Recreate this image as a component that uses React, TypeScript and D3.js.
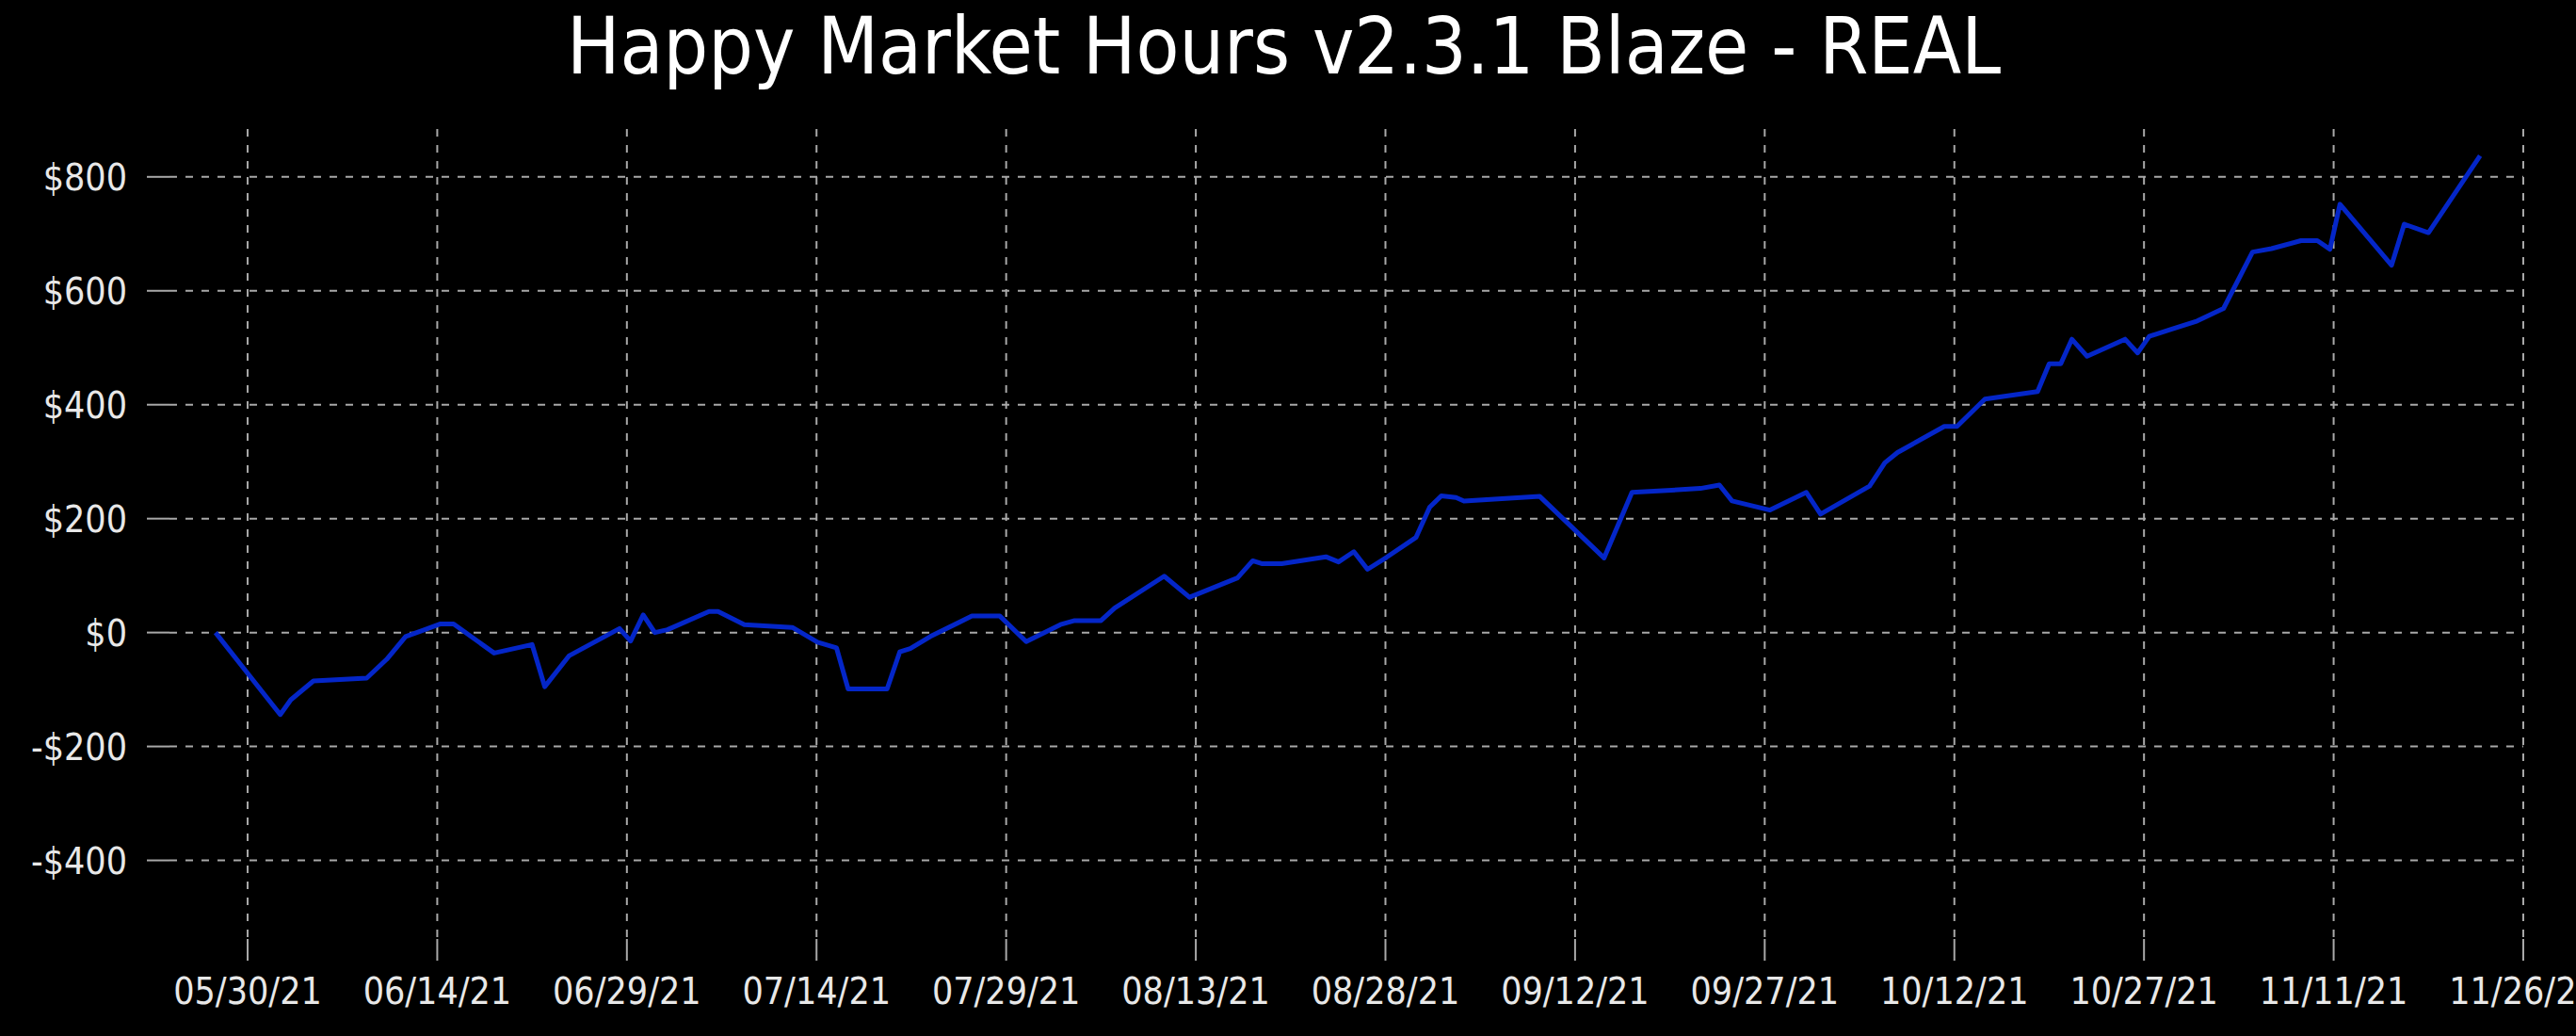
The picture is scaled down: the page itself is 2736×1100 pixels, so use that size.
import React from "react";
import * as d3 from "d3";

const TITLE = "Happy Market Hours v2.3.1 Blaze - REAL";

const dates: string[] = [
  "2021-05-27 11:00", "2021-06-01 14:00", "2021-06-02 10:00", "2021-06-04 05:00", "2021-06-08 10:00",
  "2021-06-10 00:00", "2021-06-11 12:00", "2021-06-13 00:00", "2021-06-14 05:00", "2021-06-15 07:00",
  "2021-06-18 12:00", "2021-06-21 12:00", "2021-06-22 12:00", "2021-06-24 10:00", "2021-06-28 10:00",
  "2021-06-29 07:00", "2021-06-30 07:00", "2021-07-01 05:00", "2021-07-02 05:00", "2021-07-05 12:00",
  "2021-07-06 05:00", "2021-07-08 07:00", "2021-07-12 02:00", "2021-07-14 02:00", "2021-07-15 14:00",
  "2021-07-16 12:00", "2021-07-19 14:00", "2021-07-20 14:00", "2021-07-21 10:00", "2021-07-23 00:00",
  "2021-07-26 07:00", "2021-07-28 12:00", "2021-07-30 14:00", "2021-08-02 07:00", "2021-08-03 10:00",
  "2021-08-05 12:00", "2021-08-06 14:00", "2021-08-10 12:00", "2021-08-12 12:00", "2021-08-16 07:00",
  "2021-08-17 12:00", "2021-08-18 05:00", "2021-08-19 19:00", "2021-08-23 07:00", "2021-08-24 07:00",
  "2021-08-25 12:00", "2021-08-26 14:00", "2021-08-28 02:00", "2021-08-30 10:00", "2021-08-31 12:00",
  "2021-09-01 10:00", "2021-09-02 14:00", "2021-09-03 05:00", "2021-09-09 05:00", "2021-09-14 07:00",
  "2021-09-16 12:00", "2021-09-21 22:00", "2021-09-23 10:00", "2021-09-24 10:00", "2021-09-27 10:00",
  "2021-09-30 07:00", "2021-10-01 10:00", "2021-10-05 07:00", "2021-10-06 12:00", "2021-10-07 12:00",
  "2021-10-11 05:00", "2021-10-12 05:00", "2021-10-14 10:00", "2021-10-15 17:00", "2021-10-18 14:00",
  "2021-10-19 12:00", "2021-10-20 10:00", "2021-10-21 07:00", "2021-10-22 12:00", "2021-10-25 12:00",
  "2021-10-26 12:00", "2021-10-27 10:00", "2021-10-29 05:00", "2021-10-31 05:00", "2021-11-02 07:00",
  "2021-11-04 14:00", "2021-11-06 02:00", "2021-11-08 10:00", "2021-11-09 17:00", "2021-11-10 17:00",
  "2021-11-11 12:00", "2021-11-15 14:00", "2021-11-16 14:00", "2021-11-18 12:00", "2021-11-22 14:00",
];

const profit: number[] = [
  0, -144, -118, -85, -80,
  -47, -7, 5, 15, 15,
  -36, -21, -95, -41, 7,
  -15, 31, 0, 5, 37,
  37, 14, 9, -17, -27,
  -99, -99, -34, -28, -7,
  29, 29, -16, 14, 21,
  21, 43, 99, 62, 96,
  126, 121, 121, 133, 124,
  142, 111, 132, 167, 220,
  240, 237, 231, 239, 131,
  246, 253, 259, 231, 215,
  246, 208, 257, 298, 316,
  362, 362, 410, 414, 423,
  472, 472, 515, 485, 515,
  491, 520, 533, 547, 569,
  668, 674, 688, 688, 673,
  752, 645, 717, 702, 837,
];

const xTickDates: string[] = [
  "2021-05-30 00:00", "2021-06-14 00:00", "2021-06-29 00:00", "2021-07-14 00:00", "2021-07-29 00:00",
  "2021-08-13 00:00", "2021-08-28 00:00", "2021-09-12 00:00", "2021-09-27 00:00", "2021-10-12 00:00",
  "2021-10-27 00:00", "2021-11-11 00:00", "2021-11-26 00:00",
];
const xTickLabels: string[] = [
  "05/30/21", "06/14/21", "06/29/21", "07/14/21", "07/29/21", "08/13/21", "08/28/21",
  "09/12/21", "09/27/21", "10/12/21", "10/27/21", "11/11/21", "11/26/21",
];
const yTicks: number[] = [-400, -200, 0, 200, 400, 600, 800];
const xDomain: string[] = ["2021-05-23 19:40", "2021-11-26 00:00"];
const yDomain: number[] = [-538, 884];

const W = 2736;
const H = 1100;
const M = { left: 180, right: 2680, top: 137, bottom: 997 };
const FONT = "'DejaVu Sans Condensed', 'DejaVu Sans', sans-serif";

export default function App() {
  const parse = d3.timeParse("%Y-%m-%d %H:%M");
  const x = d3
    .scaleTime()
    .domain([parse(xDomain[0])!, parse(xDomain[1])!])
    .range([M.left, M.right]);
  const y = d3.scaleLinear().domain(yDomain).range([M.bottom, M.top]);

  const data = dates.map((d, i) => ({ t: parse(d)!, v: profit[i] }));
  const line = d3
    .line<{ t: Date; v: number }>()
    .x((d) => x(d.t))
    .y((d) => y(d.v));

  const fmt = (v: number) => (v < 0 ? `-$${Math.abs(v)}` : `$${v}`);
  const gridColor = "#a8a8a8";

  return (
    <svg
      width={W}
      height={H}
      style={{ position: "absolute", left: 0, top: 0, display: "block" }}
    >
      <rect x={0} y={0} width={W} height={H} fill="#000" />
      <text
        x={602}
        y={78}
        fill="#fff"
        fontFamily={FONT}
        fontSize={84}
        textLength={1523}
        lengthAdjust="spacingAndGlyphs"
      >
        {TITLE}
      </text>

      {yTicks.map((v) => (
        <g key={"y" + v}>
          <line x1={M.left} x2={M.right} y1={y(v)} y2={y(v)} stroke={gridColor} strokeWidth={2} strokeDasharray="8 9" />
          <line x1={M.left - 24} x2={M.left} y1={y(v)} y2={y(v)} stroke={gridColor} strokeWidth={2} />
          <text
            x={135}
            y={y(v) + 14}
            fill="#e8e8e8"
            fontFamily={FONT}
            fontSize={39}
            textAnchor="end"
          >
            {fmt(v)}
          </text>
        </g>
      ))}

      {xTickDates.map((d, i) => {
        const xx = x(parse(d)!);
        return (
          <g key={"x" + d}>
            <line x1={xx} x2={xx} y1={M.top} y2={M.bottom} stroke={gridColor} strokeWidth={2} strokeDasharray="8 9" />
            <line x1={xx} x2={xx} y1={M.bottom} y2={M.bottom + 23} stroke={gridColor} strokeWidth={2} />
            <text
              x={xx}
              y={1066}
              fill="#e8e8e8"
              fontFamily={FONT}
              fontSize={39}
              textAnchor="middle"
            >
              {xTickLabels[i]}
            </text>
          </g>
        );
      })}

      <path
        d={line(data) || ""}
        fill="none"
        stroke="#0426c8"
        strokeWidth={5}
        strokeLinejoin="round"
      />
    </svg>
  );
}
